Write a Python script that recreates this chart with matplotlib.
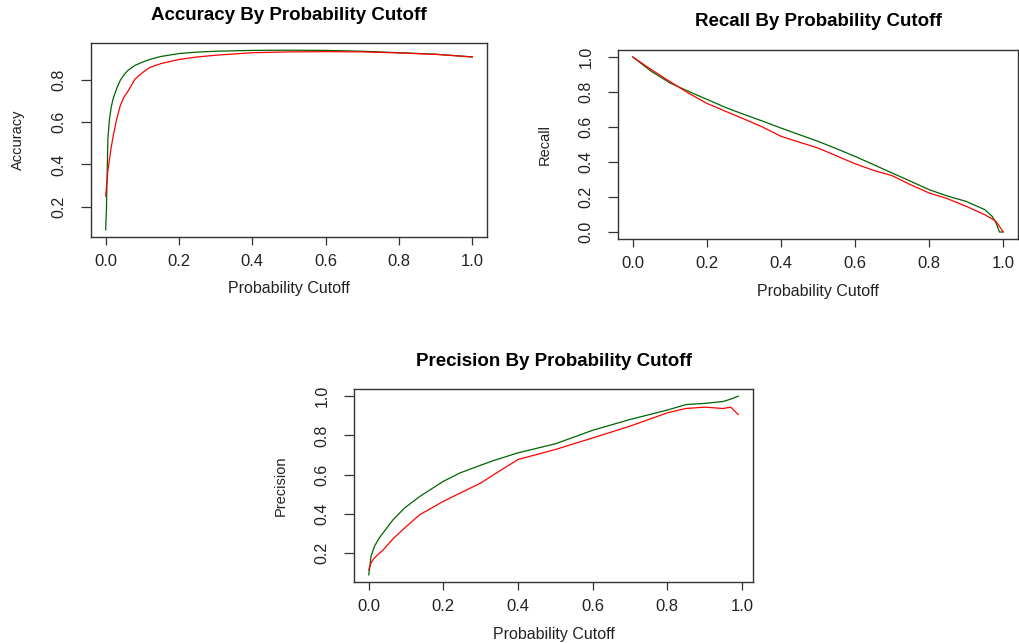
import matplotlib
matplotlib.use("Agg")
import matplotlib.pyplot as plt
from matplotlib.ticker import FormatStrFormatter

plt.rcParams['font.family'] = ['Liberation Sans', 'DejaVu Sans']

# accuracy at each cutoff (green = model A, red = model B)
acc_cutoff = [0, 0.002, 0.004, 0.006, 0.01, 0.015, 0.02, 0.03, 0.04, 0.05, 0.06,
              0.08, 0.1, 0.12, 0.15, 0.2, 0.25, 0.3, 0.4, 0.5, 0.6, 0.7, 0.8, 0.9, 1.0]
acc_green = [0.09, 0.18, 0.35, 0.52, 0.61, 0.67, 0.71, 0.76, 0.80, 0.825, 0.845,
             0.870, 0.885, 0.898, 0.912, 0.926, 0.933, 0.937, 0.941, 0.942, 0.941,
             0.937, 0.930, 0.923, 0.910]
acc_red = [0.25, 0.29, 0.33, 0.37, 0.42, 0.48, 0.53, 0.615, 0.68, 0.72, 0.745,
           0.805, 0.835, 0.860, 0.878, 0.898, 0.910, 0.918, 0.930, 0.934, 0.935,
           0.934, 0.929, 0.922, 0.910]

# recall at each cutoff
rec_cutoff = [0, 0.05, 0.1, 0.15, 0.2, 0.25, 0.3, 0.35, 0.4, 0.45, 0.5, 0.55, 0.6,
              0.65, 0.7, 0.75, 0.8, 0.85, 0.9, 0.95, 0.97, 0.98, 0.99, 1.0]
rec_green = [1.0, 0.918, 0.852, 0.804, 0.758, 0.712, 0.672, 0.634, 0.594, 0.556,
             0.518, 0.476, 0.432, 0.385, 0.337, 0.290, 0.242, 0.205, 0.175, 0.128,
             0.090, 0.055, 0.0, 0.0]
rec_red = [1.0, 0.928, 0.860, 0.794, 0.735, 0.690, 0.646, 0.600, 0.547, 0.513,
           0.480, 0.435, 0.390, 0.352, 0.322, 0.270, 0.223, 0.190, 0.147, 0.099,
           0.075, 0.061, 0.032, 0.0]

# precision at each cutoff
prec_cutoff = [0, 0.006, 0.015, 0.029, 0.038, 0.065, 0.096, 0.137, 0.2, 0.245, 0.3,
               0.335, 0.4, 0.5, 0.6, 0.7, 0.75, 0.8, 0.85, 0.9, 0.95, 0.97, 0.99]
prec_green = [0.089, 0.183, 0.234, 0.280, 0.302, 0.370, 0.430, 0.489, 0.566, 0.609,
              0.648, 0.672, 0.711, 0.757, 0.826, 0.881, 0.905, 0.929, 0.957, 0.963,
              0.973, 0.985, 1.0]
prec_red = [0.115, 0.150, 0.175, 0.200, 0.215, 0.273, 0.328, 0.396, 0.464, 0.506,
            0.557, 0.600, 0.677, 0.728, 0.787, 0.847, 0.881, 0.915, 0.937, 0.944,
            0.937, 0.944, 0.906]

W, H = 1019, 643
fig = plt.figure(figsize=(W / 100, H / 100), dpi=100)


def make_axes(left, top, right, bottom):
    return fig.add_axes([left / W, 1 - bottom / H, (right - left) / W, (bottom - top) / H])


def draw_panel(ax, x, green, red, title, ylabel, yticks):
    ax.plot(x, green, color='#006400', lw=0.9)
    ax.plot(x, red, color='#ff0000', lw=0.9)
    ax.margins(0.04)
    ax.set_xticks([0, 0.2, 0.4, 0.6, 0.8, 1.0])
    ax.set_yticks(yticks)
    ax.xaxis.set_major_formatter(FormatStrFormatter('%.1f'))
    ax.yaxis.set_major_formatter(FormatStrFormatter('%.1f'))
    for s in ax.spines.values():
        s.set_color('#333333')
        s.set_linewidth(1.0)
    ax.tick_params(axis='x', direction='out', length=6, width=0.9, pad=6,
                   labelsize=12, colors='#333333', labelcolor='#222222')
    ax.tick_params(axis='y', direction='out', length=7.5, width=0.9, pad=10,
                   labelsize=11.5, colors='#333333', labelcolor='#222222',
                   labelrotation=90)
    for lab in ax.get_yticklabels():
        lab.set_va('center')
    bw = ax.get_position().width * W
    bh = ax.get_position().height * H
    ax.text(0.5, 1 + 28 / bh, title, transform=ax.transAxes, ha='center',
            va='center', fontsize=13.5, fontweight='bold', color='black')
    ax.set_xlabel('Probability Cutoff', fontsize=11.5, color='#222222')
    ax.xaxis.set_label_coords(0.5, -52 / bh)
    ax.xaxis.label.set_va('center')
    ax.set_ylabel(ylabel, fontsize=10.5, color='#222222')
    ax.yaxis.set_label_coords(-73 / bw, 0.5)
    ax.yaxis.label.set_va('center')


ax1 = make_axes(91, 43, 487, 237)
draw_panel(ax1, acc_cutoff, acc_green, acc_red, 'Accuracy By Probability Cutoff',
           'Accuracy', [0.2, 0.4, 0.6, 0.8])

ax2 = make_axes(618, 50, 1018, 239)
draw_panel(ax2, rec_cutoff, rec_green, rec_red, 'Recall By Probability Cutoff',
           'Recall', [0.0, 0.2, 0.4, 0.6, 0.8, 1.0])

ax3 = make_axes(354, 389, 753, 582)
draw_panel(ax3, prec_cutoff, prec_green, prec_red, 'Precision By Probability Cutoff',
           'Precision', [0.2, 0.4, 0.6, 0.8, 1.0])

fig.savefig('out.png', dpi=100)
